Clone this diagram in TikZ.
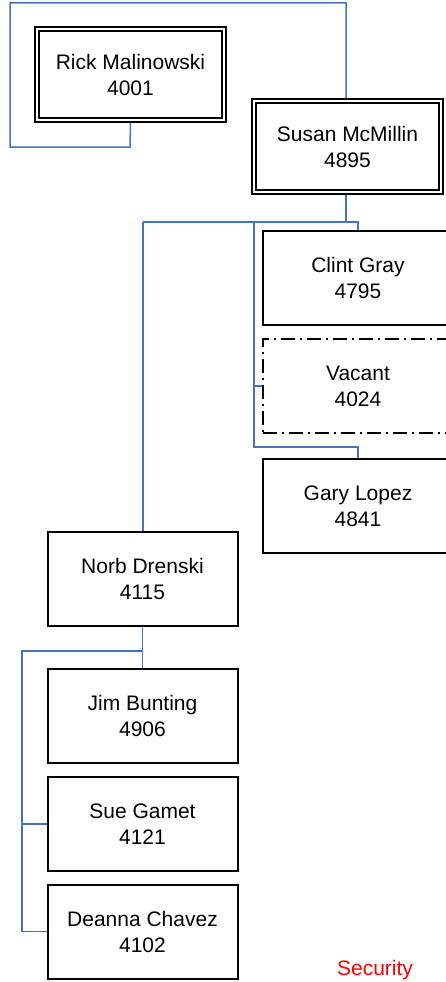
\documentclass[tikz,border=0pt]{standalone}
\usepackage{fontspec}
\setmainfont{Liberation Sans}
\definecolor{linkblue}{HTML}{4472C4}
\definecolor{secred}{HTML}{FF0000}
\tikzset{
  person/.style={draw=black, line width=2pt, minimum width=190pt, minimum height=94pt,
    inner sep=0pt, align=center, font=\fontsize{21}{26}\selectfont},
  chief/.style={person, line width=2.2pt, minimum width=190.5pt, minimum height=94.5pt},
  vacantbox/.style={person, dash pattern=on 14pt off 5pt on 2pt off 5pt},
  link/.style={draw=linkblue, line width=1.5pt},
  innerframe/.style={draw=black, line width=1.3pt}
}
\begin{document}
\begin{tikzpicture}[x=1pt, y=-1pt]
\useasboundingbox (0,0) rectangle (446,982);
% nodes
\node[chief] (rick) at (130.5,74.5) {Rick Malinowski\\4001};
\node[chief] (susan) at (347.5,146.5) {Susan McMillin\\4895};
\draw[innerframe] ([shift={(4.8,4.8)}]rick.north west) rectangle ([shift={(-4.8,-4.8)}]rick.south east);
\draw[innerframe] ([shift={(4.8,4.8)}]susan.north west) rectangle ([shift={(-4.8,-4.8)}]susan.south east);
\node[person] (clint) at (358,278) {Clint Gray\\4795};
\node[vacantbox] (vacant) at (358,386) {Vacant\\4024};
\node[person] (gary) at (358,506) {Gary Lopez\\4841};
\node[person] (norb) at (142.5,579) {Norb Drenski\\4115};
\node[person] (jim) at (142.5,716) {Jim Bunting\\4906};
\node[person] (sue) at (142.5,824) {Sue Gamet\\4121};
\node[person] (deanna) at (142.5,931.5) {Deanna Chavez\\4102};
\node[text=secred, font=\fontsize{21}{26}\selectfont] (security) at (375,970.5) {Security};
% helper coordinates
\coordinate (r1) at (130,147);
\coordinate (r2) at (10,147);
\coordinate (r3) at (10,3);
\coordinate (r4) at (346,3);
\coordinate (busl) at (143,222);
\coordinate (busm) at (346,222);
\coordinate (busr) at (358,222);
\coordinate (sv) at (254,222);
\coordinate (svt) at (254,386);
\coordinate (svb) at (254,447);
\coordinate (nb) at (143,651);
\coordinate (nl) at (22,651);
\coordinate (nsue) at (22,824);
\coordinate (ndea) at (22,931.5);
% connectors
\draw[link] (rick.south) -- (r1) -- (r2) -- (r3) -- (r4) -- (r4 |- susan.north);
\draw[link] (susan.south -| busm) -- (busm);
\draw[link] (busl) -- (busr) -- (busr |- clint.north);
\draw[link] (busl) -- (busl |- norb.north);
\draw[link] (sv) -- (svb) -| (gary.north);
\draw[link] (svt) -- (vacant.west);
\draw[link] (norb.south) -- (jim.north);
\draw[link] (nb) -- (nl) -- (ndea) -- (deanna.west);
\draw[link] (nsue) -- (sue.west);
\end{tikzpicture}
\end{document}
